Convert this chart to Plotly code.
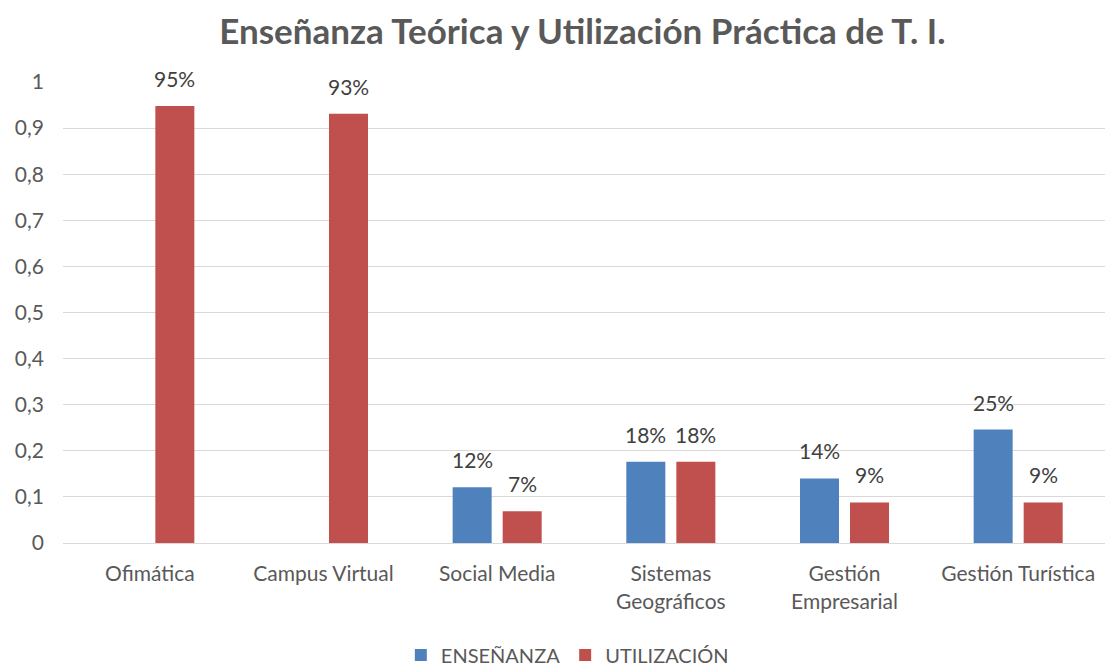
import plotly.graph_objects as go

categories = ["Ofimática", "Campus Virtual", "Social Media", "Sistemas<br>Geográficos",
              "Gestión<br>Empresarial", "Gestión Turística"]
ensenanza = [0, 0, 0.121, 0.176, 0.140, 0.246]
utilizacion = [0.948, 0.931, 0.069, 0.176, 0.088, 0.088]
y_ticks = [0, 0.1, 0.2, 0.3, 0.4, 0.5, 0.6, 0.7, 0.8, 0.9, 1]

FONT = "Lato"
GREY = "#595959"
BLUE = "#4F81BD"
RED = "#C0504D"

def labels(vals):
    return [f"{round(v*100)}%" if v > 0 else "" for v in vals]

fig = go.Figure()
fig.add_trace(go.Bar(x=categories, y=ensenanza, name="ENSEÑANZA",
                     marker=dict(color=BLUE, line=dict(width=0))))
fig.add_trace(go.Bar(x=categories, y=utilizacion, name="UTILIZACIÓN",
                     marker=dict(color=RED, line=dict(width=0))))

# data labels placed through the axes (category + value), offset to each bar of the group
for vals, shift in ((ensenanza, -25), (utilizacion, 25)):
    for cat, v, t in zip(categories, vals, labels(vals)):
        if t:
            fig.add_annotation(x=cat, y=v, text=t, showarrow=False,
                               xshift=shift, yshift=13, yanchor="bottom",
                               font=dict(family=FONT, size=21, color="#404040"))

fig.update_layout(
    width=1105, height=666,
    margin=dict(l=63, r=0, t=82, b=123, autoexpand=False),
    paper_bgcolor="white", plot_bgcolor="white",
    separators=",.",
    barmode="group", bargap=0.424, bargroupgap=0.22,
    font=dict(family=FONT, size=21, color=GREY),
    title=dict(text="<b>Enseñanza Teórica y Utilización Práctica de T. I.</b>",
               x=0.527, xanchor="center", y=0.952, yanchor="middle",
               font=dict(family=FONT, size=35, color=GREY)),
    legend=dict(orientation="h",
                x=0.484, xanchor="center", y=-0.243, yanchor="middle",
                font=dict(family=FONT, size=20, color=GREY),
                traceorder="normal"),
)
fig.update_yaxes(range=[0, 1], tickvals=y_ticks, showgrid=True, gridcolor="#D9D9D9",
                 gridwidth=1, zeroline=False, showline=False, ticks="",
                 ticklabelstandoff=18, tickfont=dict(size=21, color=GREY))
fig.update_xaxes(showline=True, linecolor="#D9D9D9", linewidth=1, ticks="",
                 ticklabelstandoff=12, tickfont=dict(size=21, color=GREY))

fig.write_html("out.html")
